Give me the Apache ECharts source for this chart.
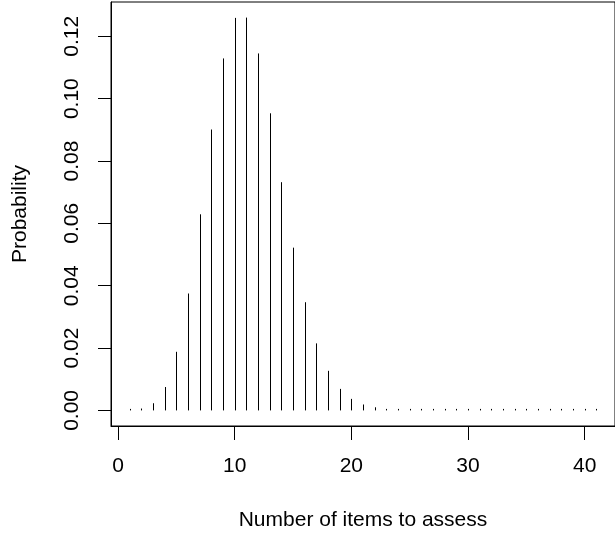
<!DOCTYPE html>
<html>
<head>
<meta charset="utf-8">
<script src="https://cdn.jsdelivr.net/npm/echarts@6/dist/echarts.min.js"></script>
<style>
  html, body { margin: 0; padding: 0; background: #fff; }
  #chart { width: 615px; height: 537px; }
</style>
</head>
<body>
<div id="chart"></div>
<script>
// number of items (x) and probability (y)
const items = [1, 2, 3, 4, 5, 6, 7, 8, 9, 10, 11, 12, 13, 14, 15, 16, 17, 18, 19, 20,
  21, 22, 23, 24, 25, 26, 27, 28, 29, 30, 31, 32, 33, 34, 35, 36, 37, 38, 39, 40, 41]
const probs = [0.0002, 0.0006, 0.0023, 0.0075, 0.0188, 0.0375, 0.0629, 0.0901, 0.1129, 0.1259,
  0.1260, 0.1145, 0.0953, 0.0732, 0.0522, 0.0347, 0.0215, 0.0127, 0.0069, 0.0037,
  0.0019, 0.0010, 0.0004, 0.0002, 0.0001, 0.00005, 0.00003, 0.00002, 0.00001, 0.00001,
  0, 0, 0, 0, 0, 0, 0, 0, 0, 0, 0]
const xTicks = [0, 10, 20, 30, 40]
const yTicks = [0, 0.02, 0.04, 0.06, 0.08, 0.10, 0.12]

let data = items.map(function (x, i) { return [x, probs[i]] })

let font = 'Liberation Sans, Arial, sans-serif'
let fsize = 21

var myChart = echarts.init(document.getElementById('chart'))

let option = {
    animation: false,
    backgroundColor: '#fff',
    grid: {
        left: 111, right: -1, top: 2, bottom: 111,
        show: true, borderColor: '#000', borderWidth: 1,
        containLabel: false
    },
    xAxis: {
        type: 'value',
        min: -0.6, max: 42.6,
        name: 'Number of items to assess',
        nameLocation: 'middle',
        nameGap: 84,
        nameTextStyle: { fontFamily: font, fontSize: fsize, color: '#000' },
        axisLine: { show: true, onZero: false, lineStyle: { color: '#000', width: 1 } },
        splitLine: { show: false },
        axisTick: { show: true, inside: false, length: 14, customValues: xTicks,
            lineStyle: { color: '#000', width: 1 } },
        axisLabel: { customValues: xTicks, margin: 30, fontFamily: font, fontSize: fsize, color: '#000' }
    },
    yAxis: {
        type: 'value',
        min: -0.005, max: 0.131,
        name: 'Probability',
        nameLocation: 'middle',
        nameGap: 80,
        nameRotate: 90,
        nameTextStyle: { fontFamily: font, fontSize: fsize, color: '#000' },
        axisLine: { show: true, onZero: false, lineStyle: { color: '#000', width: 1 } },
        splitLine: { show: false },
        axisTick: { show: true, inside: false, length: 13, customValues: yTicks,
            lineStyle: { color: '#000', width: 1 } },
        axisLabel: {
            customValues: yTicks, rotate: 90, margin: 28,
            fontFamily: font, fontSize: fsize, color: '#000',
            formatter: function (v) { return v.toFixed(2) }
        }
    },
    series: [{
        type: 'custom',
        data: data,
        renderItem: function (params, api) {
            let base = api.coord([api.value(0), 0])
            let top = api.coord([api.value(0), api.value(1)])
            let x = Math.round(base[0]) + 0.5
            let y1 = Math.min(top[1], base[1] - 1.5)
            return {
                type: 'line',
                shape: { x1: x, y1: base[1], x2: x, y2: y1 },
                style: { stroke: '#000', lineWidth: 1 }
            }
        }
    }]
}

myChart.setOption(option)
</script>
</body>
</html>
